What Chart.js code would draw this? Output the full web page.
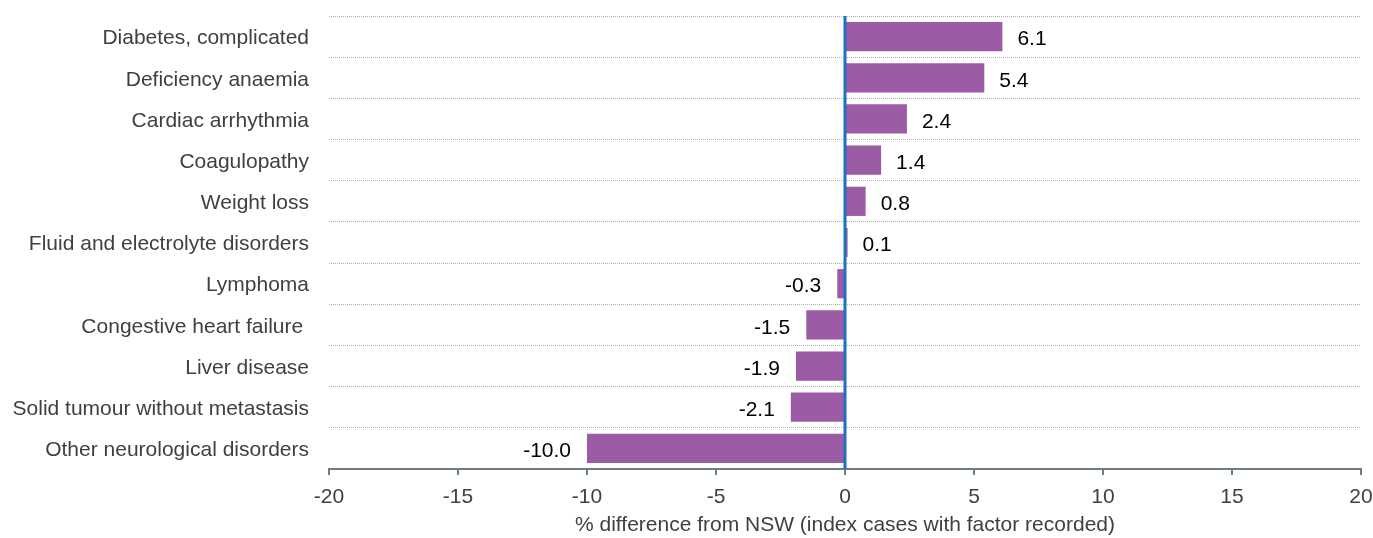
<!DOCTYPE html>
<html>
<head>
<meta charset="utf-8">
<script src="https://cdn.jsdelivr.net/npm/chart.js@4"></script>
<style>
  body { margin: 0; background: #fff; }
  #wrap { width: 1373px; height: 538px; }
</style>
</head>
<body>
<div id="wrap"><canvas id="chart" width="1373" height="538"></canvas></div>
<script>
const categories = [
  'Diabetes, complicated',
  'Deficiency anaemia',
  'Cardiac arrhythmia',
  'Coagulopathy',
  'Weight loss',
  'Fluid and electrolyte disorders',
  'Lymphoma',
  'Congestive heart failure ',
  'Liver disease',
  'Solid tumour without metastasis',
  'Other neurological disorders'
];
const values = [6.1, 5.4, 2.4, 1.4, 0.8, 0.1, -0.3, -1.5, -1.9, -2.1, -10.0];
const xTicks = [-20, -15, -10, -5, 0, 5, 10, 15, 20];
const xTitle = '% difference from NSW (index cases with factor recorded)';

const font = 'Arial, "Liberation Sans", sans-serif';

// value labels next to the bar ends, plus the blue zero line
const extras = {
  id: 'extras',
  afterDatasetsDraw(chart) {
    const ctx = chart.ctx;
    const x = chart.scales.x;
    const area = chart.chartArea;
    const meta = chart.getDatasetMeta(0);

    ctx.save();
    ctx.font = '21px ' + font;
    ctx.fillStyle = '#000';
    ctx.textBaseline = 'middle';
    meta.data.forEach((bar, i) => {
      const v = values[i];
      if (v >= 0) {
        ctx.textAlign = 'left';
        ctx.fillText(v.toFixed(1), bar.x + 15, bar.y + 3);
      } else {
        ctx.textAlign = 'right';
        ctx.fillText(v.toFixed(1), bar.x - 16, bar.y + 3);
      }
    });

    const zx = x.getPixelForValue(0);
    ctx.strokeStyle = '#1f70c0';
    ctx.lineWidth = 3;
    ctx.beginPath();
    ctx.moveTo(zx, area.top);
    ctx.lineTo(zx, area.bottom);
    ctx.stroke();
    ctx.restore();
  }
};

new Chart(document.getElementById('chart'), {
  type: 'bar',
  data: {
    labels: categories,
    datasets: [{
      data: values,
      backgroundColor: '#9b5ba5',
      borderWidth: 0,
      categoryPercentage: 1,
      barPercentage: 0.71
    }]
  },
  options: {
    indexAxis: 'y',
    responsive: false,
    animation: false,
    layout: { padding: { top: 16, right: 12, left: 0, bottom: 0 } },
    plugins: {
      legend: { display: false },
      tooltip: { enabled: false }
    },
    scales: {
      x: {
        min: -20,
        max: 20,
        afterBuildTicks(scale) {
          scale.ticks = xTicks.map(v => ({ value: v }));
        },
        afterFit(scale) {
          scale.height = 69;
          scale.paddingLeft = 0;
          scale.paddingRight = 0;
        },
        grid: {
          drawOnChartArea: false,
          drawTicks: true,
          tickLength: 6,
          color: '#6e7e7e',
          lineWidth: 2
        },
        border: { display: true, color: '#6e7e7e', width: 2 },
        ticks: {
          color: '#404040',
          font: { size: 21, family: font },
          padding: 10,
          maxRotation: 0
        },
        title: {
          display: true,
          text: xTitle,
          color: '#404040',
          font: { size: 21, family: font },
          padding: { top: 2, bottom: 0 }
        }
      },
      y: {
        afterFit(scale) {
          scale.width = 329;
          scale.paddingTop = 0;
          scale.paddingBottom = 0;
        },
        grid: {
          offset: true,
          drawTicks: false,
          color: '#a8b0b0',
          lineWidth: 1
        },
        border: { display: false, dash: [1, 1] },
        ticks: {
          color: '#404040',
          font: { size: 21, family: font },
          padding: 20,
          labelOffset: 2
        }
      }
    }
  },
  plugins: [extras]
});
</script>
</body>
</html>
